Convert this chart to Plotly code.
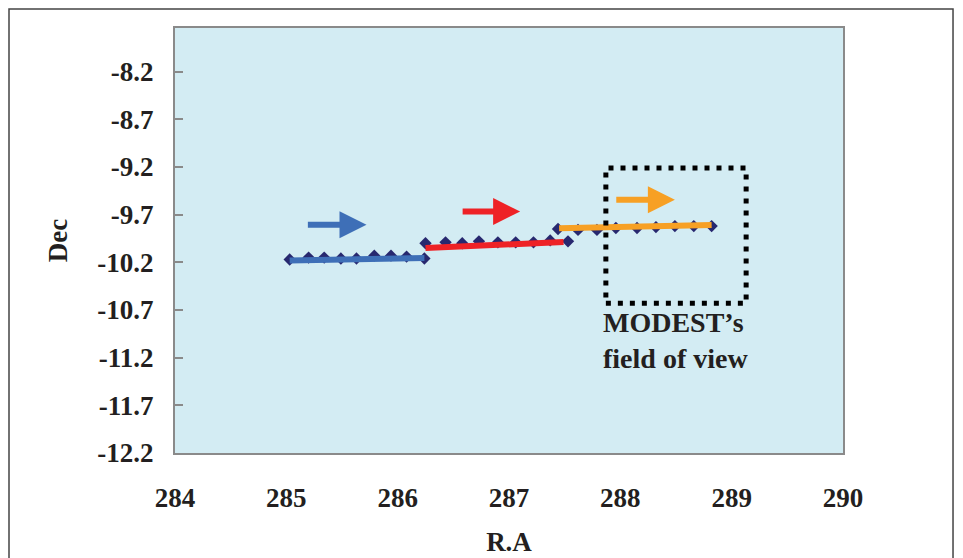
import plotly.graph_objects as go

# ---- data ----
ra_blue = [285.03, 285.20, 285.34, 285.49, 285.63, 285.79, 285.94, 286.08, 286.24]
dec_blue = [-10.17, -10.15, -10.15, -10.16, -10.16, -10.13, -10.13, -10.14, -10.16]

ra_red = [286.25, 286.43, 286.58, 286.73, 286.90, 287.06, 287.22, 287.37, 287.53]
dec_red = [-10.00, -9.99, -10.00, -9.98, -9.99, -9.99, -9.99, -9.97, -9.98]

ra_orange = [287.44, 287.62, 287.79, 287.96, 288.15, 288.32, 288.49, 288.66, 288.82]
dec_orange = [-9.85, -9.86, -9.86, -9.84, -9.84, -9.83, -9.82, -9.82, -9.82]

# drawn track lines (start/end)
blue_line_ra = [285.03, 286.24]
blue_line_dec = [-10.18, -10.155]
red_line_ra = [286.25, 287.49]
red_line_dec = [-10.05, -9.987]
orange_line_ra = [287.45, 288.82]
orange_line_dec = [-9.843, -9.809]

# direction arrows (tail ra, tip ra, dec)
arrow_blue = [285.18, 285.72, -9.806]
arrow_red = [286.57, 287.10, -9.667]
arrow_orange = [287.95, 288.49, -9.544]

# field of view box (ra0, ra1, dec0, dec1)
fov_box = [287.87, 289.13, -10.628, -9.211]
fov_label = "MODEST\u2019s<br>field of view"

x_ticks = [284, 285, 286, 287, 288, 289, 290]
y_ticks = [-8.2, -8.7, -9.2, -9.7, -10.2, -10.7, -11.2, -11.7, -12.2]
y_ticklabels = ["-8.2", "-8.7", "-9.2", "-9.7", "-10.2", "-10.7", "-11.2", "-11.7", "-12.2"]

FONT = "Liberation Serif"
TXT = "#231f20"
MARKER = "#27286f"
BLUE = "#3e6fb7"
RED = "#ee2226"
ORANGE = "#f7a024"
FS = 27

fig = go.Figure()

for xs, ys in [(ra_blue, dec_blue), (ra_red, dec_red), (ra_orange, dec_orange)]:
    fig.add_trace(go.Scatter(x=xs, y=ys, mode="markers",
                             marker=dict(symbol="diamond", size=9.5, color=MARKER),
                             showlegend=False, hoverinfo="skip"))

for xs, ys, c in [(blue_line_ra, blue_line_dec, BLUE), (red_line_ra, red_line_dec, RED),
                  (orange_line_ra, orange_line_dec, ORANGE)]:
    fig.add_trace(go.Scatter(x=xs, y=ys, mode="lines", line=dict(color=c, width=6),
                             showlegend=False, hoverinfo="skip"))

for (x0, x1, yv), c in [(arrow_blue, BLUE), (arrow_red, RED), (arrow_orange, ORANGE)]:
    fig.add_annotation(x=x1, y=yv, ax=x0, ay=yv, xref="x", yref="y", axref="x", ayref="y",
                       showarrow=True, arrowhead=2, arrowsize=0.9, arrowwidth=6,
                       arrowcolor=c, text="")

fig.add_shape(type="rect", xref="x", yref="y",
              x0=fov_box[0], x1=fov_box[1], y0=fov_box[2], y1=fov_box[3],
              line=dict(color="black", width=5, dash="5px,7px"))

fig.add_annotation(x=fov_box[0] - 0.04, y=fov_box[2] - 0.02, xref="x", yref="y",
                   text=fov_label, showarrow=False, xanchor="left", yanchor="top",
                   align="left",
                   font=dict(family=FONT, size=28, color=TXT, weight="bold"))

# outer frame
fig.add_shape(type="rect", xref="paper", yref="paper",
              x0=-0.2485, x1=1.1647, y0=-0.4, y1=1.0447,
              line=dict(color="#444444", width=1.5), layer="below")

fig.update_layout(
    width=963, height=558,
    margin=dict(l=167, r=128, t=20, b=113),
    paper_bgcolor="white",
    plot_bgcolor="#d3ecf3",
    font=dict(family=FONT, size=FS, color=TXT, weight="bold"),
    showlegend=False,
)

fig.update_xaxes(range=[284, 290], tickvals=x_ticks, ticks="", automargin=False,
                 showline=True, mirror=True, linecolor="#8a8a8a", linewidth=2,
                 showgrid=False, zeroline=False, ticklabelstandoff=20,
                 title=dict(text="R.A", standoff=20,
                            font=dict(family=FONT, size=FS, color=TXT, weight="bold")))
fig.update_yaxes(range=[-12.2, -7.742], tickvals=y_ticks, ticktext=y_ticklabels,
                 ticks="inside", ticklen=8, tickcolor="#8a8a8a", tickwidth=1.5,
                 automargin=False,
                 showline=True, mirror=True, linecolor="#8a8a8a", linewidth=2,
                 showgrid=False, zeroline=False, ticklabelstandoff=14,
                 title=dict(text="Dec", standoff=22,
                            font=dict(family=FONT, size=FS, color=TXT, weight="bold")))

fig.write_html("out.html")
